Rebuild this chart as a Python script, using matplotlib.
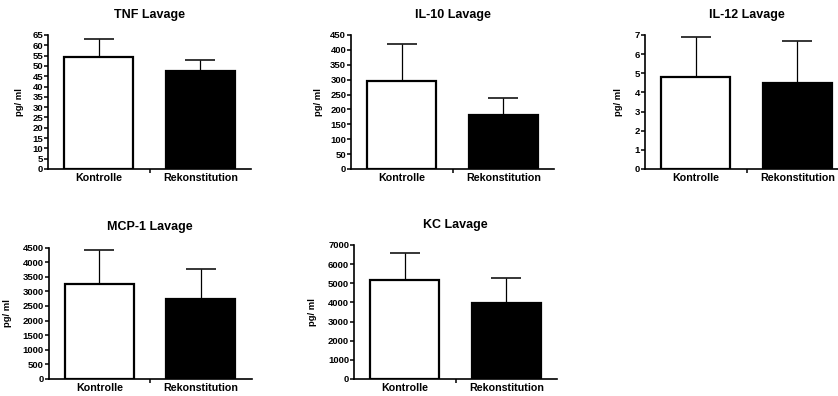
import numpy as np
import matplotlib
matplotlib.use('Agg')
import matplotlib.pyplot as plt

plt.rcParams['font.family'] = 'Liberation Sans'
plt.rcParams['font.weight'] = 'bold'

groups = ['Kontrolle', 'Rekonstitution']

titles = ['TNF Lavage', 'IL-10 Lavage', 'IL-12 Lavage', 'MCP-1 Lavage', 'KC Lavage']

# mean and upper error (SEM) per group
tnf_mean = [54.2, 47.3]
tnf_err = [9.0, 5.8]
il10_mean = [295, 180]
il10_err = [124, 60]
il12_mean = [4.82, 4.49]
il12_err = [2.05, 2.21]
mcp1_mean = [3256, 2730]
mcp1_err = [1164, 1050]
kc_mean = [5156, 3990]
kc_err = [1444, 1310]

tnf_ticks = np.arange(0, 66, 5)
il10_ticks = np.arange(0, 451, 50)
il12_ticks = np.arange(0, 8, 1)
mcp1_ticks = np.arange(0, 4501, 500)
kc_ticks = np.arange(0, 7001, 1000)

means = [tnf_mean, il10_mean, il12_mean, mcp1_mean, kc_mean]
errs = [tnf_err, il10_err, il12_err, mcp1_err, kc_err]
ticks = [tnf_ticks, il10_ticks, il12_ticks, mcp1_ticks, kc_ticks]

W, H = 838, 396
fig = plt.figure(figsize=(W / 100, H / 100), dpi=100)

# axes boxes in pixels: left x, top y, bottom y
boxes = [(48, 35, 169), (351, 35, 169), (645, 35, 169),
         (48.5, 247.5, 379), (354, 245, 379)]
ylab_off = [24, 28, 22, 36, 37]
axw = 203

for i in range(5):
    x0, yt, yb = boxes[i]
    ax = fig.add_axes([x0 / W, 1 - yb / H, axw / W, (yb - yt) / H])
    xs = np.arange(2)
    ax.errorbar(xs, means[i], yerr=[[0, 0], errs[i]], fmt='none', ecolor='black',
                elinewidth=0.9, capsize=10.8, capthick=1.1, zorder=1)
    ax.bar(xs, means[i], width=0.68, color=['white', 'black'], edgecolor='black',
           linewidth=1.6, zorder=2)
    ax.set_xlim(-0.5, 1.5)
    ax.set_ylim(0, ticks[i][-1])
    ax.set_yticks(ticks[i])
    ax.set_xticks([0.5])
    ax.set_xticklabels([''])
    for xi, g in enumerate(groups):
        ax.text(xi, -0.065, g, transform=ax.get_xaxis_transform(), ha='center',
                va='center', fontsize=7.7, fontweight='bold')
    ax.tick_params(axis='y', direction='out', length=3, width=1.1, labelsize=6.8, pad=0.5)
    ax.tick_params(axis='x', direction='out', length=3, width=1.1)
    for lab in ax.get_yticklabels():
        lab.set_fontweight('bold')
    for s in ['top', 'right']:
        ax.spines[s].set_visible(False)
    for s in ['left', 'bottom']:
        ax.spines[s].set_linewidth(1.2)
    ax.set_ylabel('pg/ ml', fontsize=6.8, fontweight='bold')
    ax.yaxis.set_label_coords(-ylab_off[i] / axw, 0.5)
    ax.set_title(titles[i], fontsize=9, fontweight='bold', pad=12.5)

fig.savefig('out.png', dpi=100)
